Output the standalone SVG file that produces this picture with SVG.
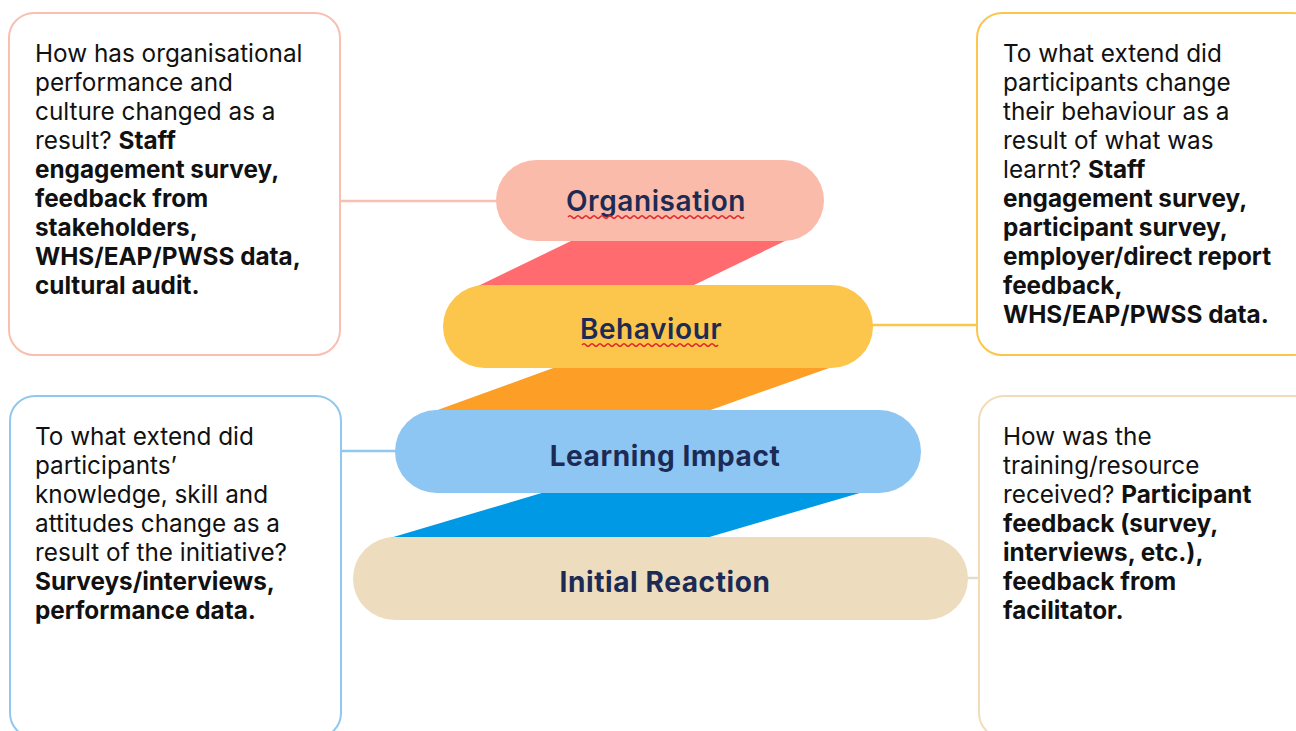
<svg xmlns="http://www.w3.org/2000/svg" width="1296" height="731" viewBox="0 0 1296 731">
  <style>
    .box { fill: #ffffff; stroke-width: 2; }
    .q { font-family: Inter, "Liberation Sans", sans-serif; font-size: 24.3px; fill: #111111; }
    .b { font-weight: 700; }
    .pill-label { font-family: Inter, "Liberation Sans", sans-serif; fill: #1c2b55; text-anchor: middle; font-size: 28px; letter-spacing: 0.6px; }
    .link { fill: none; stroke-width: 2.5; }
    .squiggle { fill: none; stroke: #e0242a; stroke-width: 1.4; }
  </style>
  <rect width="1296" height="731" fill="#ffffff"/>

  <!-- connectors between levels and their question boxes -->
  <g id="connectors">
    <line class="link" x1="340" y1="201" x2="498" y2="201" stroke="#f9bfb0"/>
    <line class="link" x1="871" y1="325" x2="978" y2="325" stroke="#fcc54c"/>
    <line class="link" x1="341" y1="451" x2="398" y2="451" stroke="#90c8f0"/>
    <line class="link" x1="966" y1="578" x2="980" y2="578" stroke="#e6dccb"/>
  </g>

  <!-- slanted bands joining the stacked levels -->
  <g id="bands">
    <polygon points="573,240 787,240 690,287 476,287" fill="#ff6b6e"/>
    <polygon points="556,367 832,367 705,412 432,412" fill="#fd9e27"/>
    <polygon points="545,492 863,492 706,538 390,538" fill="#0099e6"/>
  </g>

  <!-- level: Organisation -->
  <g id="organisation">
    <rect x="496" y="160" width="328" height="81" rx="40.5" fill="#fbbbaa"/>
    <text class="pill-label" x="656" y="211" font-weight="600" letter-spacing="0.2">Organisation</text>
    <path class="squiggle" d="M568,217 q2,-2.5 4,0 t4,0 t4,0 t4,0 t4,0 t4,0 t4,0 t4,0 t4,0 t4,0 t4,0 t4,0 t4,0 t4,0 t4,0 t4,0 t4,0 t4,0 t4,0 t4,0 t4,0 t4,0 t4,0 t4,0 t4,0 t4,0 t4,0 t4,0 t4,0 t4,0 t4,0 t4,0 t4,0 t4,0 t4,0 t4,0 t4,0 t4,0 t4,0 t4,0 t4,0 t4,0 t4,0 t4,0"/>
  </g>

  <!-- level: Behaviour -->
  <g id="behaviour">
    <rect x="443" y="285" width="430" height="83" rx="41.5" fill="#fcc54c"/>
    <text class="pill-label" x="651" y="339" font-weight="600" letter-spacing="0.2">Behaviour</text>
    <path class="squiggle" d="M582,345 q2,-2.5 4,0 t4,0 t4,0 t4,0 t4,0 t4,0 t4,0 t4,0 t4,0 t4,0 t4,0 t4,0 t4,0 t4,0 t4,0 t4,0 t4,0 t4,0 t4,0 t4,0 t4,0 t4,0 t4,0 t4,0 t4,0 t4,0 t4,0 t4,0 t4,0 t4,0 t4,0 t4,0 t4,0 t4,0"/>
  </g>

  <!-- level: Learning Impact -->
  <g id="learning-impact">
    <rect x="395" y="410" width="526" height="83" rx="41.5" fill="#8dc6f2"/>
    <text class="pill-label" x="665" y="466" font-weight="700">Learning Impact</text>
  </g>

  <!-- level: Initial Reaction -->
  <g id="initial-reaction">
    <rect x="353" y="537" width="615" height="83" rx="41.5" fill="#eedcbe"/>
    <text class="pill-label" x="665" y="592" font-weight="700">Initial Reaction</text>
  </g>

  <!-- question box: organisation -->
  <g id="box-organisation">
    <rect class="box" x="9" y="13" width="331" height="342" rx="25" stroke="#f9bfb0"/>
    <text class="q" x="35">
      <tspan x="35" y="62">How has organisational</tspan>
      <tspan x="35" y="91">performance and</tspan>
      <tspan x="35" y="120">culture changed as a</tspan>
      <tspan x="35" y="149">result? <tspan class="b">Staff</tspan></tspan>
      <tspan x="35" y="178" class="b">engagement survey,</tspan>
      <tspan x="35" y="207" class="b">feedback from</tspan>
      <tspan x="35" y="236" class="b">stakeholders,</tspan>
      <tspan x="35" y="265" class="b">WHS/EAP/PWSS data,</tspan>
      <tspan x="35" y="294" class="b">cultural audit.</tspan>
    </text>
  </g>

  <!-- question box: behaviour -->
  <g id="box-behaviour">
    <rect class="box" x="977" y="13" width="340" height="342" rx="25" stroke="#fcc54c"/>
    <text class="q" x="1003">
      <tspan x="1003" y="62">To what extend did</tspan>
      <tspan x="1003" y="91">participants change</tspan>
      <tspan x="1003" y="120">their behaviour as a</tspan>
      <tspan x="1003" y="149">result of what was</tspan>
      <tspan x="1003" y="178">learnt? <tspan class="b">Staff</tspan></tspan>
      <tspan x="1003" y="207" class="b">engagement survey,</tspan>
      <tspan x="1003" y="236" class="b">participant survey,</tspan>
      <tspan x="1003" y="265" class="b">employer/direct report</tspan>
      <tspan x="1003" y="294" class="b">feedback,</tspan>
      <tspan x="1003" y="323" class="b">WHS/EAP/PWSS data.</tspan>
    </text>
  </g>

  <!-- question box: learning impact -->
  <g id="box-learning-impact">
    <rect class="box" x="10" y="396" width="331" height="342" rx="25" stroke="#90c8f0"/>
    <text class="q" x="35">
      <tspan x="35" y="445">To what extend did</tspan>
      <tspan x="35" y="474">participants’</tspan>
      <tspan x="35" y="503">knowledge, skill and</tspan>
      <tspan x="35" y="532">attitudes change as a</tspan>
      <tspan x="35" y="561">result of the initiative?</tspan>
      <tspan x="35" y="590" class="b">Surveys/interviews,</tspan>
      <tspan x="35" y="619" class="b">performance data.</tspan>
    </text>
  </g>

  <!-- question box: initial reaction -->
  <g id="box-initial-reaction">
    <rect class="box" x="979" y="396" width="340" height="342" rx="25" stroke="#f0ddb8"/>
    <text class="q" x="1003">
      <tspan x="1003" y="445">How was the</tspan>
      <tspan x="1003" y="474">training/resource</tspan>
      <tspan x="1003" y="503">received? <tspan class="b">Participant</tspan></tspan>
      <tspan x="1003" y="532" class="b">feedback (survey,</tspan>
      <tspan x="1003" y="561" class="b">interviews, etc.),</tspan>
      <tspan x="1003" y="590" class="b">feedback from</tspan>
      <tspan x="1003" y="619" class="b">facilitator.</tspan>
    </text>
  </g>
</svg>
